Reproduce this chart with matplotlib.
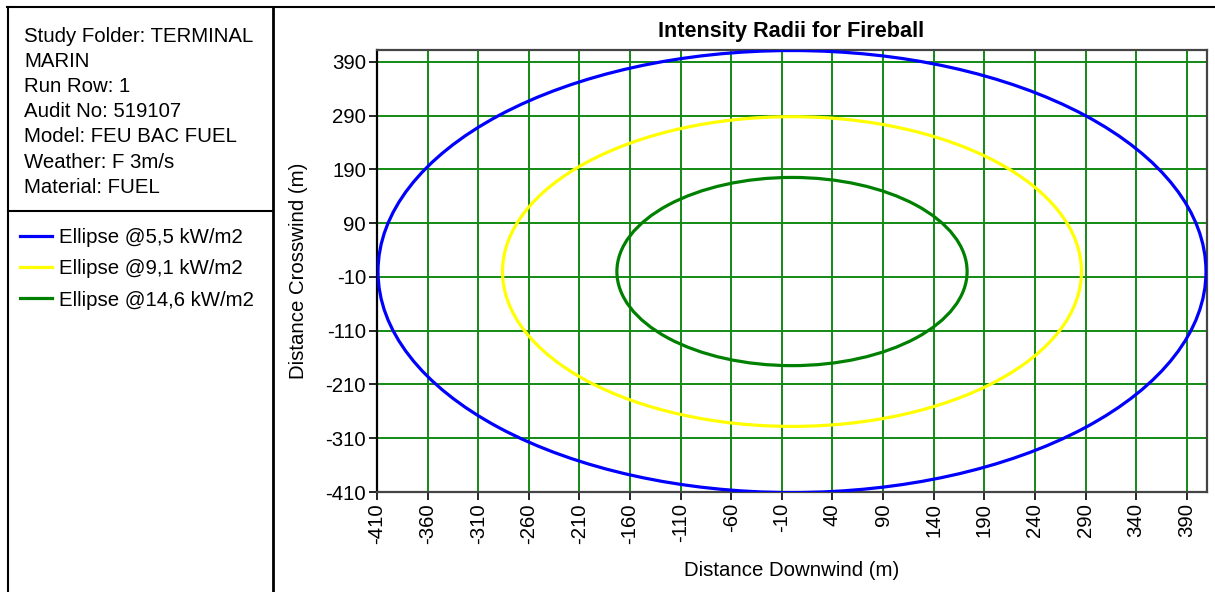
import matplotlib
matplotlib.use("Agg")
import matplotlib.pyplot as plt
from matplotlib.patches import Ellipse
from matplotlib.lines import Line2D

plt.rcParams['font.family'] = ['Liberation Sans', 'DejaVu Sans']

# ---- data ----
series_labels = ["Ellipse @5,5 kW/m2", "Ellipse @9,1 kW/m2", "Ellipse @14,6 kW/m2"]
series_colors = ["#0000FF", "#FFFF00", "#008000"]
radius_downwind = [409, 286, 173]
radius_crosswind = [411, 288, 175]
center_x = [0, 0, 0]
center_y = [0, 0, 0]
xticks = list(range(-410, 391, 50))
yticks = list(range(-410, 391, 100))
info_lines = ["Study Folder: TERMINAL", "MARIN", "Run Row: 1", "Audit No: 519107",
              "Model: FEU BAC FUEL", "Weather: F 3m/s", "Material: FUEL"]

W, H = 1215, 592
fig = plt.figure(figsize=(W / 100, H / 100), dpi=100)
FS = 14.7

def fx(px):
    return px / W

def fy(py):
    return 1 - py / H

ax = fig.add_axes([fx(377), fy(492), fx(1207) - fx(377), fy(50) - fy(492)])
ax.set_xlim(-410, 410)
ax.set_ylim(-410, 412)

for cx, cy, rx, ry, c in zip(center_x, center_y, radius_downwind, radius_crosswind, series_colors):
    ax.add_patch(Ellipse((cx, cy), 2 * rx, 2 * ry, fill=False, edgecolor=c, lw=2.3, zorder=3))

ax.set_xticks(xticks)
ax.set_yticks(yticks)
ax.set_xticklabels([str(v) for v in xticks], rotation=90, fontsize=FS)
ax.set_yticklabels([str(v) for v in yticks], fontsize=FS)
ax.tick_params(direction='out', length=6, width=1.2, colors='black', pad=2)
ax.grid(True, color='#138a13', lw=1.4, zorder=1)
ax.set_axisbelow(True)
for s in ['top', 'right', 'bottom']:
    ax.spines[s].set_color('#444444')
    ax.spines[s].set_linewidth(1.6)
ax.spines['left'].set_color('black')
ax.spines['left'].set_linewidth(1.6)

fig.text(fx(791), fy(32), "Intensity Radii for Fireball", fontsize=15.6, fontweight='bold',
         ha='center', va='center')
fig.text(fx(792), fy(570), "Distance Downwind (m)", fontsize=FS, ha='center', va='center')
fig.text(fx(298), fy(271), "Distance Crosswind (m)", fontsize=FS, ha='center', va='center',
         rotation=90)

# ---- left panel borders ----
kw = dict(transform=fig.transFigure, color='black', lw=1.5)
fig.add_artist(Line2D([fx(7), fx(1215)], [fy(7), fy(7)], **kw))
fig.add_artist(Line2D([fx(8), fx(8)], [fy(7), fy(592)], **kw))
fig.add_artist(Line2D([fx(273), fx(273)], [fy(7), fy(592)], color='black', lw=2, transform=fig.transFigure))
fig.add_artist(Line2D([fx(8), fx(273)], [fy(211), fy(211)], **kw))

for i, line in enumerate(info_lines):
    fig.text(fx(24), fy(36 + i * 25.2), line, fontsize=FS, ha='left', va='center')

handles = [Line2D([], [], color=c, lw=2.3) for c in series_colors]
fig.legend(handles, series_labels, loc='upper left', bbox_to_anchor=(fx(20), fy(228)),
           frameon=False, fontsize=FS, handlelength=1.55, handletextpad=0.35,
           labelspacing=0.6, borderaxespad=0, borderpad=0)

fig.savefig("out.png", dpi=100)
